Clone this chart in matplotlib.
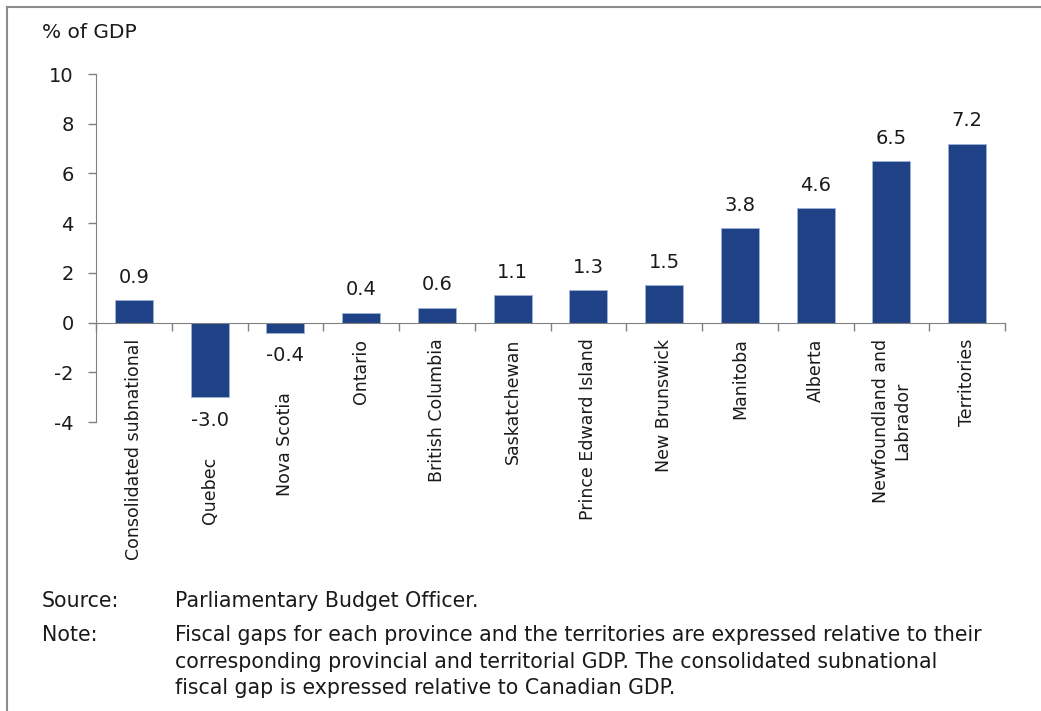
import numpy as np
import matplotlib.pyplot as plt
from matplotlib.lines import Line2D

# Fiscal gap by province, % of GDP
regions = [
    "Consolidated subnational", "Quebec", "Nova Scotia", "Ontario",
    "British Columbia", "Saskatchewan", "Prince Edward Island",
    "New Brunswick", "Manitoba", "Alberta", "Newfoundland and\nLabrador",
    "Territories",
]
fiscal_gap = [0.9, -3.0, -0.4, 0.4, 0.6, 1.1, 1.3, 1.5, 3.8, 4.6, 6.5, 7.2]
y_ticks = [-4, -2, 0, 2, 4, 6, 8, 10]

source_text = "Parliamentary Budget Officer."
note_lines = [
    "Fiscal gaps for each province and the territories are expressed relative to their",
    "corresponding provincial and territorial GDP. The consolidated subnational",
    "fiscal gap is expressed relative to Canadian GDP.",
]

font = "DejaVu Sans"
bar_color = "#1f4286"
axis_color = "#808080"
text_color = "#1a1a1a"

fig = plt.figure(figsize=(10.41, 7.11), dpi=100)
ax = fig.add_axes([96 / 1041, 1 - 422 / 711, (1005 - 96) / 1041, (422 - 74) / 711])

# place the x axis at zero first; moving the spine resets the ticks
for side in ["top", "right"]:
    ax.spines[side].set_visible(False)
ax.spines["bottom"].set_position(("data", 0))
ax.spines["bottom"].set_color(axis_color)
ax.spines["left"].set_color(axis_color)

x = np.arange(len(regions))
ax.bar(x, fiscal_gap, width=0.5, color=bar_color, edgecolor="#9db3d6", linewidth=0.6, zorder=2)

for xi, v, name in zip(x, fiscal_gap, regions):
    if v >= 0:
        ax.annotate(f"{v:.1f}", (xi, v), xytext=(0, 9.5), textcoords="offset points",
                    ha="center", va="bottom", fontsize=14, family=font, color=text_color)
        # category name just under the axis
        ax.annotate(name, (xi, 0), xytext=(0, -11.5), textcoords="offset points",
                    rotation=90, ha="center", va="top", multialignment="center",
                    fontsize=12.5, family=font, color=text_color)
    else:
        ax.annotate(f"{v:.1f}", (xi, v), xytext=(0, -10), textcoords="offset points",
                    ha="center", va="top", fontsize=14, family=font, color=text_color)
        # pushed below the value label of the negative bar
        ax.annotate(name, (xi, v), xytext=(0, -43), textcoords="offset points",
                    rotation=90, ha="center", va="top", multialignment="center",
                    fontsize=12.5, family=font, color=text_color)

ax.set_xlim(-0.5, len(regions) - 0.5)
ax.set_ylim(-4, 10)
ax.set_yticks(y_ticks)
ax.set_yticklabels([str(t) for t in y_ticks], family=font, fontsize=14, color=text_color)

# tick marks at the category boundaries
ax.set_xticks(np.arange(len(regions) + 1) - 0.5)
ax.set_xticklabels([])
ax.tick_params(axis="x", length=6, direction="out", color=axis_color, width=1)
ax.tick_params(axis="y", length=6, direction="out", color=axis_color, width=1, pad=10)

fig.text(42 / 1041, 1 - 33 / 711, "% of GDP", family=font, fontsize=14.5,
         color=text_color, va="center", ha="left")

note_size = 14.8
fig.text(42 / 1041, 1 - 601 / 711, "Source:", family=font, fontsize=note_size,
         color=text_color, va="center", ha="left")
fig.text(175 / 1041, 1 - 601 / 711, source_text, family=font, fontsize=note_size,
         color=text_color, va="center", ha="left")
fig.text(42 / 1041, 1 - 635 / 711, "Note:", family=font, fontsize=note_size,
         color=text_color, va="center", ha="left")
for i, line in enumerate(note_lines):
    fig.text(175 / 1041, 1 - (635 + 26.5 * i) / 711, line, family=font, fontsize=note_size,
             color=text_color, va="center", ha="left")

# frame lines along the top and left edges
fig.add_artist(Line2D([7 / 1041, 7 / 1041], [0, 1 - 7 / 711], transform=fig.transFigure,
                      color="#8c8c8c", linewidth=1.5))
fig.add_artist(Line2D([7 / 1041, 1], [1 - 7 / 711, 1 - 7 / 711], transform=fig.transFigure,
                      color="#8c8c8c", linewidth=1.5))

fig.savefig("out.png", dpi=100)
